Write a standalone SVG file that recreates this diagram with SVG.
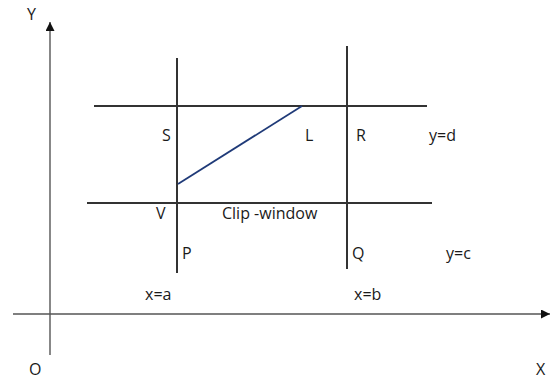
<svg xmlns="http://www.w3.org/2000/svg" width="553" height="381" viewBox="0 0 553 381">
<defs>
<style>
.axis{stroke:#555;stroke-width:1.4;fill:none}
.win{stroke:#333;stroke-width:2;fill:none}
.seg{stroke:#1f3a78;stroke-width:1.8;fill:none}
text{font-family:"Open Sans","Liberation Sans",sans-serif;font-size:16px;fill:#1a1a1a}
</style>
<marker id="ah" viewBox="0 0 10 10" refX="10" refY="5" markerWidth="9" markerHeight="9" markerUnits="userSpaceOnUse" orient="auto">
<path d="M0,0 L10,5 L0,10 z" fill="#111"/>
</marker>
</defs>
<rect width="553" height="381" fill="#fff"/>
<g id="connectors">
<line id="y-axis" class="axis" x1="50" y1="355" x2="50" y2="22" marker-end="url(#ah)"/>
<line id="x-axis" class="axis" x1="13" y1="314" x2="550" y2="314" marker-end="url(#ah)"/>
<line id="x-a" class="win" x1="177" y1="58" x2="177" y2="273"/>
<line id="x-b" class="win" x1="347" y1="46" x2="347" y2="269"/>
<line id="y-d" class="win" x1="94" y1="106" x2="427" y2="106"/>
<line id="y-c" class="win" x1="87" y1="203" x2="432" y2="203"/>
<line id="line-L" class="seg" x1="178" y1="184" x2="302" y2="106"/>
</g>
<g id="labels">
<text x="27" y="20">Y</text>
<text x="162" y="141">S</text>
<text x="305" y="141">L</text>
<text x="356" y="141">R</text>
<text x="429" y="141">y=d</text>
<text x="156" y="219">V</text>
<text x="222" y="219">Clip -window</text>
<text x="182" y="259">P</text>
<text x="352" y="259">Q</text>
<text x="446" y="259">y=c</text>
<text x="145" y="300">x=a</text>
<text x="354" y="300">x=b</text>
<text x="29" y="375">O</text>
<text x="536" y="375">X</text>
</g>
</svg>
